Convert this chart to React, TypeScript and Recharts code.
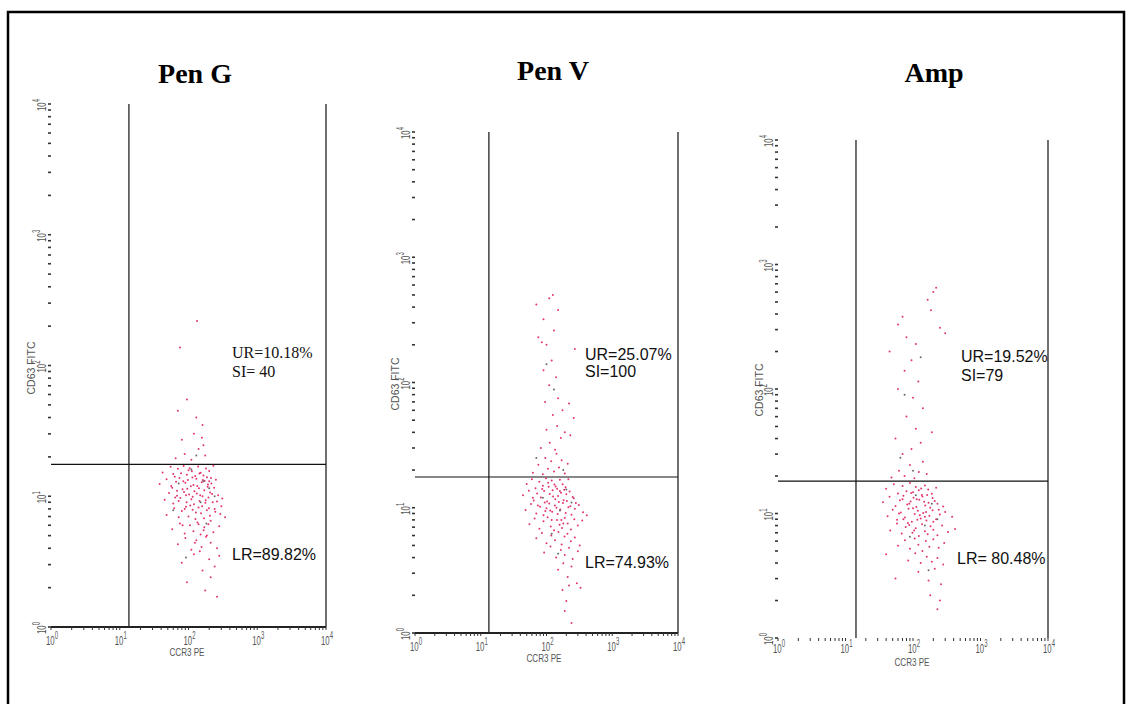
import React from "react";
import { ScatterChart, Scatter, XAxis, YAxis, ReferenceLine } from "recharts";

type Pt = [number, number];

const DECADES = [1, 10, 100, 1000, 10000];
const DECADE_EXP = ["0", "1", "2", "3", "4"];
const LOG_TICKS: number[] = [
  1, 2, 3, 4, 5, 6, 7, 8, 9, 10, 20, 30, 40, 50, 60, 70, 80, 90, 100, 200, 300, 400, 500, 600, 700, 800, 900,
  1000, 2000, 3000, 4000, 5000, 6000, 7000, 8000, 9000, 10000,
];

const PANEL_TITLES = ["Pen G", "Pen V", "Amp"];
const UR_LABELS = ["UR=10.18%", "UR=25.07%", "UR=19.52%"];
const SI_LABELS = ["SI= 40", "SI=100", "SI=79"];
const LR_LABELS = ["LR=89.82%", "LR=74.93%", "LR= 80.48%"];
const X_GATES = [13.6, 13.3, 14.3];
const Y_GATES = [17.5, 17.6, 18.2];
const X_AXIS_TITLE = "CCR3 PE";
const Y_AXIS_TITLE = "CD63 FITC";

// ---- Pen G events (CCR3 PE, CD63 FITC)
const penGLower: Pt[] = [
  [42, 15.2], [55, 16.8], [63, 14.1], [70, 16.2], [78, 15.0], [85, 17.0], [95, 14.6], [104, 16.4], [112, 15.5], [125, 14.3], [138, 16.9], [150, 15.1], [165, 14.4], [180, 16.3], [200, 15.6], [230, 17.1],
  [38, 12.4], [48, 13.5], [58, 11.6], [66, 12.9], [74, 13.8], [82, 11.3], [90, 12.7], [98, 13.3], [108, 11.9], [118, 12.2], [130, 13.6], [142, 11.5], [156, 12.8], [172, 13.1], [190, 11.8], [215, 12.5], [250, 13.4],
  [45, 9.4], [52, 10.6], [60, 8.8], [68, 10.1], [76, 9.7], [86, 10.8], [94, 9.0], [102, 10.3], [110, 9.5], [120, 8.7], [132, 10.5], [145, 9.2], [160, 10.0], [176, 8.9], [195, 9.8], [220, 10.4], [260, 9.1], [310, 9.6],
  [48, 7.2], [62, 8.1], [72, 6.9], [80, 7.7], [92, 8.3], [100, 7.0], [115, 7.9], [126, 6.7], [140, 8.2], [152, 7.4], [168, 6.8], [185, 7.8], [205, 7.1], [240, 8.0], [290, 7.3], [340, 6.9],
  [58, 5.6], [75, 6.2], [88, 5.2], [105, 6.0], [118, 5.4], [135, 6.3], [150, 5.1], [170, 5.8], [195, 6.1], [230, 5.3], [280, 5.9],
  [70, 4.3], [90, 4.8], [110, 3.9], [130, 4.6], [155, 4.1], [180, 4.9], [210, 4.4], [260, 4.0],
  [80, 3.1], [120, 3.6], [160, 2.7], [200, 3.3], [240, 2.9], [280, 3.5],
  [95, 2.2], [175, 1.9], [210, 2.4], [260, 1.7],
  [60, 14.8], [68, 11.0], [72, 9.2], [84, 13.0], [88, 8.0], [96, 11.4], [100, 15.8], [106, 8.5], [114, 13.9], [122, 10.9], [128, 7.5], [134, 12.0], [144, 14.9], [148, 10.2], [158, 8.4], [162, 13.3], [170, 11.1], [178, 9.3], [186, 14.0], [192, 12.3],
  [198, 8.1], [206, 10.7], [212, 13.8], [225, 9.0], [236, 11.6], [245, 7.6], [270, 10.2], [300, 8.4], [115, 9.9], [92, 10.2], [140, 6.1], [166, 5.5], [185, 5.0], [210, 6.5], [124, 4.4], [146, 3.8], [82, 6.0], [64, 9.8], [56, 12.0], [200, 13.0],
];
const penGUpper: Pt[] = [
  [65, 19.5], [88, 21.0], [110, 19.0], [140, 23.0], [175, 20.5], [165, 24.5], [80, 27.0], [120, 30.0], [157, 28.0], [160, 35.0],
  [70, 45.0], [95, 55.0], [130, 40.0], [75, 137.0], [133, 219.0],
];
const penGGray: Pt[] = [
  [72, 12.5], [150, 9.0], [182, 6.2], [110, 16.0], [200, 11.5], [92, 3.4], [130, 20.5], [60, 7.8], [240, 10.0], [165, 13.0],
];

// ---- Pen V events
const penVLower: Pt[] = [
  [50, 15.5], [60, 16.9], [68, 14.3], [78, 16.1], [88, 15.0], [98, 17.2], [108, 14.7], [120, 16.5], [132, 15.3], [145, 14.2], [160, 16.7], [176, 15.4], [195, 14.6], [215, 16.9],
  [44, 12.6], [54, 13.7], [64, 11.4], [72, 13.0], [82, 12.1], [92, 13.6], [102, 11.2], [112, 12.9], [124, 13.8], [136, 11.7], [150, 12.4], [166, 13.2], [182, 11.5], [200, 12.8], [225, 13.5], [260, 11.9],
  [48, 9.6], [58, 10.7], [70, 9.0], [80, 10.2], [90, 8.7], [100, 9.9], [110, 10.8], [122, 9.3], [134, 10.4], [148, 8.9], [162, 9.7], [178, 10.9], [196, 9.1], [215, 10.1], [240, 8.8], [270, 9.8], [310, 10.5], [360, 9.2], [410, 8.7],
  [55, 7.4], [66, 8.2], [78, 6.8], [90, 7.8], [104, 8.4], [116, 7.1], [130, 6.6], [144, 8.0], [158, 7.3], [172, 6.9], [190, 8.3], [210, 7.5], [235, 6.7], [265, 8.1], [300, 7.2], [350, 7.9],
  [70, 5.7], [85, 6.3], [100, 5.2], [118, 6.0], [135, 5.5], [152, 6.4], [170, 5.1], [188, 5.9], [208, 6.2], [235, 5.4], [270, 5.8], [320, 5.0],
  [92, 4.4], [115, 4.9], [140, 4.0], [165, 4.6], [190, 4.2], [220, 4.8], [250, 3.9], [300, 4.5],
  [150, 3.2], [180, 3.6], [210, 2.8], [240, 3.4], [290, 2.5], [330, 2.3],
  [175, 2.2], [200, 1.8], [190, 1.5], [240, 1.2], [220, 2.4],
  [62, 12.0], [74, 10.4], [86, 14.1], [94, 11.0], [106, 15.8], [114, 9.5], [126, 12.3], [138, 14.8], [142, 10.0], [154, 11.1],
  [168, 8.0], [186, 13.9], [204, 11.3], [230, 10.3], [250, 12.2], [120, 8.0], [96, 9.4], [160, 13.6], [180, 7.5], [280, 10.9],
];
const penVUpper: Pt[] = [
  [62, 19.0], [75, 22.0], [88, 18.5], [96, 25.0], [105, 20.5], [118, 23.5], [130, 19.5], [142, 27.0], [155, 21.0], [170, 24.0],
  [190, 18.8], [210, 22.5], [82, 30.0], [112, 33.0], [135, 29.0], [165, 36.0], [100, 42.0], [145, 45.0], [190, 40.0], [230, 38.0],
  [125, 55.0], [175, 60.0], [260, 52.0], [95, 70.0], [150, 75.0], [220, 68.0], [110, 95.0], [140, 110.0], [90, 125.0], [120, 150.0],
  [270, 185.0], [100, 200.0], [75, 230.0], [130, 260.0], [90, 320.0], [150, 380.0], [70, 420.0], [110, 470.0], [125, 500.0], [85, 210.0],
];
const penVGray: Pt[] = [
  [70, 25], [130, 88], [88, 12], [160, 9.5], [120, 6.2], [200, 14], [100, 140], [240, 11], [150, 4.3], [180, 20],
];

// ---- Amp events
const ampLower: Pt[] = [
  [40, 15.8], [52, 17.2], [60, 14.5], [70, 16.6], [80, 15.1], [90, 17.6], [100, 14.8], [110, 16.3], [122, 15.4], [135, 14.1], [150, 16.8], [168, 15.6], [190, 14.4], [220, 16.1],
  [36, 12.3], [45, 13.6], [55, 11.5], [64, 12.8], [72, 13.9], [82, 11.8], [92, 12.5], [102, 13.4], [112, 11.3], [124, 12.9], [138, 13.7], [152, 11.6], [170, 12.2], [195, 13.3], [230, 12.0], [280, 11.4],
  [42, 9.5], [50, 10.7], [58, 8.9], [66, 10.2], [76, 9.3], [86, 10.9], [96, 8.6], [106, 9.9], [118, 10.5], [130, 9.1], [142, 10.1], [158, 8.8], [175, 9.6], [195, 10.6], [220, 9.0], [250, 9.8], [300, 10.3], [380, 9.4],
  [46, 7.3], [58, 8.3], [68, 6.9], [78, 7.8], [88, 8.1], [98, 7.0], [110, 7.6], [122, 6.6], [136, 8.2], [150, 7.2], [165, 6.8], [182, 7.9], [200, 7.4], [230, 6.7], [270, 8.0], [330, 7.1], [420, 7.5],
  [60, 5.5], [76, 6.1], [90, 5.2], [106, 6.3], [120, 5.6], [138, 5.0], [155, 6.0], [175, 5.4], [200, 6.2], [240, 5.3], [290, 5.8],
  [40, 4.7], [85, 4.2], [108, 4.8], [130, 4.0], [160, 4.5], [190, 4.1], [230, 4.4], [280, 3.9],
  [55, 3.0], [120, 3.4], [170, 2.9], [210, 3.6], [260, 2.7],
  [180, 2.2], [230, 1.7], [250, 2.0],
  [62, 10.0], [70, 13.0], [84, 8.4], [94, 14.6], [100, 11.0], [104, 7.3], [114, 13.0], [126, 9.7], [132, 15.9], [146, 12.4],
  [156, 10.3], [162, 14.1], [180, 11.1], [210, 12.6], [240, 10.7], [88, 12.0], [116, 8.9], [150, 9.4], [72, 9.0], [200, 8.6],
];
const ampUpper: Pt[] = [
  [48, 19.5], [62, 22.0], [75, 20.0], [90, 24.5], [105, 19.2], [122, 21.5], [140, 26.0], [160, 20.8], [70, 30.0], [95, 33.0],
  [130, 37.0], [55, 40.0], [110, 48.0], [190, 45.0], [80, 60.0], [140, 70.0], [100, 85.0], [60, 100.0], [120, 115.0], [75, 140.0],
  [95, 170.0], [45, 200.0], [110, 230.0], [80, 260.0], [250, 310.0], [300, 280.0], [60, 330.0], [70, 380.0], [185, 430.0], [165, 520.0],
  [200, 600.0], [220, 650.0],
];
const ampGray: Pt[] = [
  [65, 28], [110, 14], [150, 8.0], [90, 6.5], [190, 12], [130, 180], [75, 90], [230, 9], [170, 3.5], [100, 22],
];

const RED_SETS: Pt[][] = [penGLower.concat(penGUpper), penVLower.concat(penVUpper), ampLower.concat(ampUpper)];
const GRAY_SETS: Pt[][] = [penGGray, penVGray, ampGray];

// ---- layout (page pixels)
const BOXES = [
  { left: 51, top: 104, w: 275, h: 523, axisLine: true, labelOffset: 18 },
  { left: 415, top: 132, w: 263, h: 501, axisLine: true, labelOffset: 18 },
  { left: 778, top: 140, w: 270, h: 498, axisLine: false, labelOffset: 15 },
];
const TITLE_POS = [
  { x: 195, y: 83 },
  { x: 553, y: 80 },
  { x: 934, y: 82 },
];
const ANN_POS = [
  { ux: 232, uy: 358, sy: 377, lx: 232, ly: 560, serif: true },
  { ux: 585, uy: 360, sy: 377, lx: 585, ly: 568, serif: false },
  { ux: 961, uy: 362, sy: 381, lx: 957, ly: 564, serif: false },
];
const YTITLE_POS = [
  { x: 35, y: 368 },
  { x: 399, y: 384 },
  { x: 763, y: 390 },
];
const XTITLE_POS = [
  { x: 187, y: 656 },
  { x: 544, y: 662 },
  { x: 912, y: 666 },
];

const SANS = "Arial, 'Liberation Sans', sans-serif";
const SERIF = "'Times New Roman', 'Liberation Serif', serif";
const TICK_COLOR = "#555";

const PowerLabel = ({ exp }: { exp: string }) => (
  <text textAnchor="middle" fontSize={13} fill={TICK_COLOR} fontFamily={SANS}>
    10
    <tspan dy={-6} fontSize={10}>
      {exp}
    </tspan>
  </text>
);

const makeXTick = (offset: number) => (props: any) => {
  const { x, y, payload } = props;
  const i = DECADES.indexOf(payload.value);
  return (
    <g>
      <line x1={x} y1={y} x2={x} y2={y + 3} stroke="#333" strokeWidth={1} />
      {i >= 0 && (
        <g transform={`translate(${x + 1},${y + offset}) scale(0.6,1)`}>
          <PowerLabel exp={DECADE_EXP[i]} />
        </g>
      )}
    </g>
  );
};

const YTick = (props: any) => {
  const { x, y, payload } = props;
  const i = DECADES.indexOf(payload.value);
  return (
    <g>
      <line x1={x - 3} y1={y} x2={x} y2={y} stroke="#333" strokeWidth={1.6} />
      {i >= 0 && (
        <g transform={`translate(${x - 5},${y + 1}) rotate(-90) scale(0.6,1)`}>
          <PowerLabel exp={DECADE_EXP[i]} />
        </g>
      )}
    </g>
  );
};

const dot = (color: string) => (p: any) => <circle cx={p.cx} cy={p.cy} r={1} fill={color} />;

function Panel({ idx }: { idx: number }) {
  const box = BOXES[idx];
  const red = RED_SETS[idx].map(([x, y]) => ({ x, y }));
  const gray = GRAY_SETS[idx].map(([x, y]) => ({ x, y }));
  return (
    <div style={{ position: "absolute", left: box.left - 60, top: box.top - 20 }}>
      <ScatterChart width={box.w + 80} height={box.h + 70} margin={{ top: 20, right: 20, bottom: 10, left: 0 }}>
        <XAxis
          type="number"
          dataKey="x"
          scale="log"
          domain={[1, 10000]}
          ticks={LOG_TICKS}
          interval={0}
          tick={makeXTick(box.labelOffset)}
          tickLine={false}
          tickSize={0}
          tickMargin={0}
          axisLine={box.axisLine ? { stroke: "#222", strokeWidth: 1.8 } : false}
          height={40}
          allowDataOverflow
        />
        <YAxis
          type="number"
          dataKey="y"
          scale="log"
          domain={[1, 10000]}
          ticks={LOG_TICKS}
          interval={0}
          tick={YTick}
          tickLine={false}
          tickSize={0}
          tickMargin={0}
          axisLine={false}
          width={60}
          allowDataOverflow
        />
        <Scatter data={red} isAnimationActive={false} shape={dot("#e2366c")} />
        <Scatter data={gray} isAnimationActive={false} shape={dot("#6a6a6a")} />
        <ReferenceLine x={X_GATES[idx]} stroke="#111" strokeWidth={1.2} />
        <ReferenceLine x={10000} stroke="#111" strokeWidth={1.2} />
        <ReferenceLine y={Y_GATES[idx]} stroke="#111" strokeWidth={1.2} />
      </ScatterChart>
    </div>
  );
}

export default function App() {
  return (
    <div style={{ position: "absolute", left: 0, top: 0, width: 1128, height: 704, background: "#fff", overflow: "hidden" }}>
      {[0, 1, 2].map((i) => (
        <Panel key={i} idx={i} />
      ))}
      <svg width={1128} height={704} style={{ position: "absolute", left: 0, top: 0, pointerEvents: "none" }}>
        <rect x={8} y={12} width={1116} height={700} fill="none" stroke="#000" strokeWidth={2.5} />
        {PANEL_TITLES.map((t, i) => (
          <text key={t} x={TITLE_POS[i].x} y={TITLE_POS[i].y} textAnchor="middle" fontFamily={SERIF} fontWeight="bold" fontSize={28} fill="#000">
            {t}
          </text>
        ))}
        {ANN_POS.map((a, i) => (
          <g key={i} fill="#111" fontSize={16}>
            <text x={a.ux} y={a.uy} fontFamily={a.serif ? SERIF : SANS}>
              {UR_LABELS[i]}
            </text>
            <text x={a.ux} y={a.sy} fontFamily={a.serif ? SERIF : SANS}>
              {SI_LABELS[i]}
            </text>
            <text x={a.lx} y={a.ly} fontFamily={SANS}>
              {LR_LABELS[i]}
            </text>
          </g>
        ))}
        {YTITLE_POS.map((p, i) => (
          <text
            key={i}
            transform={`translate(${p.x},${p.y}) rotate(-90)`}
            textAnchor="middle"
            fontFamily={SANS}
            fontSize={11}
            fill={TICK_COLOR}
            textLength={53}
            lengthAdjust="spacingAndGlyphs"
          >
            {Y_AXIS_TITLE}
          </text>
        ))}
        {XTITLE_POS.map((p, i) => (
          <text
            key={i}
            x={p.x}
            y={p.y}
            textAnchor="middle"
            fontFamily={SANS}
            fontSize={11}
            fill={TICK_COLOR}
            textLength={35}
            lengthAdjust="spacingAndGlyphs"
          >
            {X_AXIS_TITLE}
          </text>
        ))}
      </svg>
    </div>
  );
}
